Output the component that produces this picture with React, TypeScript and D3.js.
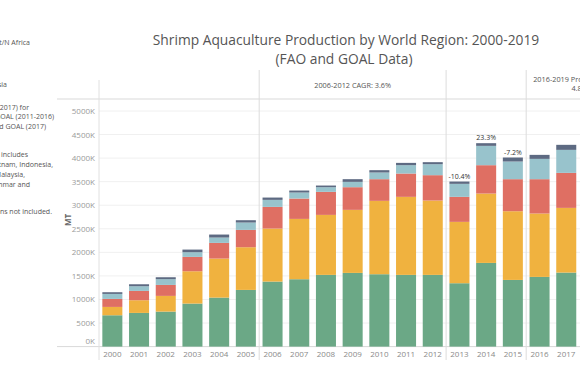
import React from "react";
import * as d3 from "d3";

const years = ["2000","2001","2002","2003","2004","2005","2006","2007","2008","2009","2010","2011","2012","2013","2014","2015","2016","2017"];
const allYears = [...years, "2018", "2019"];
const seriesNames = ["China", "Southeast Asia", "South Asia", "Latin America", "Middle East/N Africa"];
const china = [665, 715, 743, 913, 1040, 1203, 1380, 1430, 1522, 1564, 1536, 1522, 1522, 1345, 1776, 1415, 1479, 1571];
const seAsia = [177, 269, 333, 686, 828, 906, 1125, 1280, 1273, 1338, 1557, 1656, 1578, 1302, 1472, 1458, 1345, 1373];
const southAsia = [170, 198, 233, 305, 333, 368, 460, 432, 489, 481, 460, 495, 538, 531, 602, 680, 729, 743];
const latAm = [106, 99, 121, 99, 113, 156, 149, 128, 99, 113, 142, 177, 233, 276, 410, 375, 431, 488];
const mena = [36, 42, 42, 56, 64, 49, 49, 42, 35, 57, 49, 49, 43, 49, 57, 85, 85, 107];
const colors = ["#6ba886", "#f0b23f", "#df6f63", "#98c3cc", "#5d6a82"];
const yTicks = [0, 500, 1000, 1500, 2000, 2500, 3000, 3500, 4000, 4500, 5000];
const changeYears = ["2013", "2014", "2015"];
const changeLabels = ["-10.4%", "23.3%", "-7.2%"];
const paneBreaks = ["2006", "2013", "2016"];
const headerTexts = [["2006-2012 CAGR: 3.6%"], ["2016-2019 Projected CAGR:", "4.8%"]];
const notes = [
  { t: "Middle East/N Africa", x: 30, y: 45 },
  { t: "Asia", x: 7, y: 87 },
  { t: "Data: FAO (2000-2017) for", x: 29, y: 110 },
  { t: "2000-2010, GOAL (2011-2016)", x: 54, y: 119 },
  { t: "and GOAL (2017)", x: 46, y: 129 },
  { t: "Southeast Asia includes", x: 28, y: 157 },
  { t: "Thailand, Vietnam, Indonesia,", x: 53, y: 167 },
  { t: "Malaysia,", x: 25, y: 177 },
  { t: "Philippines, Myanmar and", x: 30, y: 187 },
  { t: "Other regions not included.", x: 52, y: 214 },
];

export default function App() {
  const W = 580, H = 377;
  const x = d3.scaleBand<string>().domain(allYears).range([99, 633]).paddingInner(0.25).paddingOuter(0.125);
  const y = d3.scaleLinear().domain([0, 5000]).range([346.6, 111]);
  const rows = years.map((yr, i) => ({ year: yr, s0: china[i], s1: seAsia[i], s2: southAsia[i], s3: latAm[i], s4: mena[i] }));
  const stack = d3.stack<any>().keys(["s0", "s1", "s2", "s3", "s4"]);
  const layers = stack(rows);
  const step = x.step();
  const edge = (yr: string) => (x(yr) as number) - (step - x.bandwidth()) / 2;
  const breaks = paneBreaks.map(edge);
  const paneCenters = [(breaks[0] + breaks[1]) / 2, (breaks[2] + 633) / 2];
  const font = "'Open Sans', 'Noto Sans', sans-serif";
  return (
    <svg width={W} height={H} style={{ position: "absolute", left: 0, top: 0, background: "#fff" }} fontFamily={font}>
      <text x={346} y={45} textAnchor="middle" fontSize={13.8} fill="#555">Shrimp Aquaculture Production by World Region: 2000-2019</text>
      <text x={344} y={64} textAnchor="middle" fontSize={13.8} fill="#555">(FAO and GOAL Data)</text>
      {notes.map((n, i) => (
        <text key={i} x={n.x} y={n.y} textAnchor="end" fontSize={7} fill="#555">{n.t}</text>
      ))}
      {yTicks.map((t) => (
        <line key={t} x1={99} x2={W} y1={y(t)} y2={y(t)} stroke="#f0f0f0" strokeWidth={1} />
      ))}
      <line x1={57} x2={W} y1={99} y2={99} stroke="#d9d9d9" />
      <line x1={57} x2={W} y1={346.6} y2={346.6} stroke="#d9d9d9" />
      <line x1={99} x2={99} y1={80} y2={360} stroke="#e0e0e0" />
      {breaks.map((b, i) => (
        <line key={i} x1={b} x2={b} y1={70} y2={360} stroke="#dcdcdc" />
      ))}
      {headerTexts.map((lines, i) => (
        <text key={i} x={paneCenters[i]} y={lines.length > 1 ? 82 : 87.5} textAnchor="middle" fontSize={7.3} fill="#555">
          {lines.map((l, j) => (
            <tspan key={j} x={paneCenters[i]} dy={j === 0 ? 0 : 9}>{l}</tspan>
          ))}
        </text>
      ))}
      {yTicks.map((t) => (
        <text key={t} x={95} y={t === 0 ? y(t) - 3 : y(t) + 3} textAnchor="end" fontSize={8} fill="#9a9a9a">{t}K</text>
      ))}
      <text transform={`translate(71,220) rotate(-90)`} textAnchor="middle" fontSize={8} fontWeight="bold" fill="#666">MT</text>
      {layers.map((layer, li) => (
        <g key={li} fill={colors[li]}>
          {layer.map((d: any, i: number) => (
            <rect key={i} x={x(rows[i].year)} width={x.bandwidth()} y={y(d[1])} height={y(d[0]) - y(d[1])} />
          ))}
        </g>
      ))}
      {allYears.map((yr) => (
        <text key={yr} x={(x(yr) as number) + x.bandwidth() / 2} y={357} textAnchor="middle" fontSize={8} fill="#8a8a8a">{yr}</text>
      ))}
      {changeYears.map((yr, i) => {
        const idx = years.indexOf(yr);
        const top = layers[layers.length - 1][idx][1];
        return (
          <text key={yr} x={(x(yr) as number) + x.bandwidth() / 2} y={y(top) - 3} textAnchor="middle" fontSize={7} fill="#333">{changeLabels[i]}</text>
        );
      })}
    </svg>
  );
}
